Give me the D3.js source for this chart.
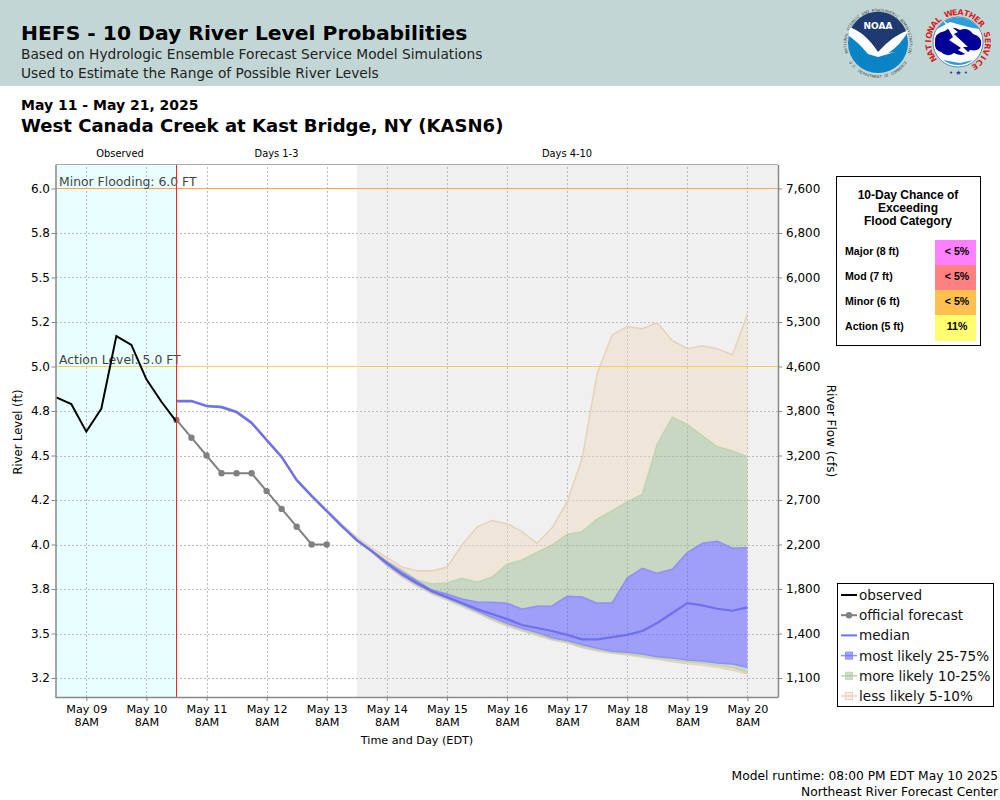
<!DOCTYPE html>
<html>
<head>
<meta charset="utf-8">
<script src="https://d3js.org/d3.v7.min.js"></script>
<style>
html, body { margin: 0; padding: 0; background: #fff; }
svg { display: block; }
text { font-family: "DejaVu Sans", sans-serif; }
.tbl text { font-family: "Liberation Sans", sans-serif; font-weight: bold; }
.axis .domain { stroke: #888; stroke-width: 1.5px; }
.axis .tick line { stroke: #888; }
.grid .domain { display: none; }
.grid .tick line { stroke: #bbb; stroke-dasharray: 2,2; shape-rendering: crispEdges; }
</style>
</head>
<body>
<div id="chart"></div>
<script>
// values, river level in feet, one value every 6 hours
var observed = [4.827, 4.789, 4.634, 4.763, 5.171, 5.121, 4.928, 4.802, 4.69];
var official = [4.7, 4.6, 4.5, 4.4, 4.4, 4.4, 4.3, 4.2, 4.1, 4.0, 4.0];
var median = [4.806, 4.806, 4.778, 4.772, 4.744, 4.683, 4.587, 4.492, 4.362, 4.272, 4.188, 4.104, 4.025, 3.963,
    3.896, 3.834, 3.784, 3.739, 3.705, 3.671, 3.638, 3.610, 3.581, 3.548, 3.531, 3.514, 3.492, 3.467, 3.467,
    3.480, 3.492, 3.514, 3.559, 3.615, 3.671, 3.658, 3.639, 3.628, 3.647];
var p95 = [4.810, 4.810, 4.783, 4.778, 4.750, 4.690, 4.593, 4.498, 4.368, 4.279, 4.196, 4.115, 4.042, 3.980,
    3.928, 3.874, 3.853, 3.853, 3.872, 3.997, 4.098, 4.134, 4.117, 4.072, 4.007, 4.094, 4.240, 4.484, 4.962,
    5.177, 5.224, 5.212, 5.246, 5.145, 5.100, 5.117, 5.100, 5.066, 5.295];
var p90 = [4.809, 4.809, 4.781, 4.775, 4.747, 4.686, 4.590, 4.495, 4.365, 4.275, 4.191, 4.108, 4.030, 3.968,
    3.907, 3.857, 3.801, 3.778, 3.784, 3.810, 3.789, 3.816, 3.889, 3.913, 3.956, 3.997, 4.057, 4.072, 4.142,
    4.190, 4.239, 4.282, 4.565, 4.715, 4.673, 4.610, 4.549, 4.525, 4.492];
var p75 = [4.808, 4.808, 4.780, 4.774, 4.746, 4.685, 4.589, 4.494, 4.364, 4.274, 4.190, 4.106, 4.027, 3.965,
    3.902, 3.846, 3.795, 3.744, 3.722, 3.694, 3.677, 3.675, 3.670, 3.636, 3.653, 3.655, 3.709, 3.705, 3.670,
    3.673, 3.812, 3.866, 3.838, 3.861, 3.954, 4.007, 4.018, 3.979, 3.982];
var p25 = [4.804, 4.804, 4.776, 4.770, 4.742, 4.681, 4.585, 4.490, 4.360, 4.270, 4.186, 4.102, 4.023, 3.961,
    3.890, 3.829, 3.778, 3.733, 3.699, 3.666, 3.628, 3.591, 3.557, 3.529, 3.505, 3.476, 3.460, 3.437, 3.417,
    3.400, 3.394, 3.385, 3.370, 3.362, 3.351, 3.346, 3.334, 3.329, 3.310];
var p10 = [4.803, 4.803, 4.775, 4.769, 4.741, 4.680, 4.584, 4.489, 4.359, 4.269, 4.185, 4.101, 4.021, 3.959,
    3.885, 3.823, 3.772, 3.728, 3.694, 3.657, 3.621, 3.581, 3.548, 3.520, 3.494, 3.469, 3.452, 3.426, 3.407,
    3.392, 3.385, 3.374, 3.361, 3.351, 3.340, 3.333, 3.321, 3.308, 3.282];
var p5 = [4.802, 4.802, 4.774, 4.768, 4.740, 4.679, 4.583, 4.488, 4.358, 4.268, 4.184, 4.100, 4.020, 3.957,
    3.879, 3.817, 3.767, 3.722, 3.688, 3.652, 3.615, 3.576, 3.542, 3.514, 3.489, 3.463, 3.447, 3.420, 3.402,
    3.389, 3.379, 3.366, 3.355, 3.341, 3.330, 3.321, 3.310, 3.293, 3.274];

// axis ticks
var levelTicks = [3.25, 3.5, 3.75, 4.0, 4.25, 4.5, 4.75, 5.0, 5.25, 5.5, 5.75, 6.0];
var levelLabels = ["3.2", "3.5", "3.8", "4.0", "4.2", "4.5", "4.8", "5.0", "5.2", "5.5", "5.8", "6.0"];
var flowLabels = ["1,100", "1,400", "1,800", "2,200", "2,700", "3,200", "3,800", "4,600", "5,300", "6,000", "6,800", "7,600"];
var dayTicks = d3.range(9, 21).map(function(d) { return new Date(2025, 4, d, 8); });

// chance table and legend
var floodCategories = ["Major (8 ft)", "Mod (7 ft)", "Minor (6 ft)", "Action (5 ft)"];
var floodChances = ["< 5%", "< 5%", "< 5%", "11%"];
var floodColors = ["#ff80ff", "#ff8080", "#ffc050", "#ffff70"];
var legendLabels = ["observed", "official forecast", "median", "most likely 25-75%", "more likely 10-25%", "less likely 5-10%"];
var periodLabels = ["Observed", "Days 1-3", "Days 4-10"];

var tan = { fill: "rgba(240,214,186,0.42)", line: "#e6d2bc" };
var green = { fill: "rgba(150,185,135,0.45)", line: "#bcd6b0" };
var blue = { fill: "rgba(100,100,255,0.58)", line: "#8f8ff5" };
var medianColor = "#6f6ff0";
var officialColor = "#808080";

var svg = d3.select("#chart").append("svg").attr("width", 1000).attr("height", 800);

var x = d3.scaleTime()
    .domain([new Date(2025, 4, 8, 19, 30), new Date(2025, 4, 20, 20)])
    .range([55, 777.5]);
var y = d3.scaleLinear().domain([3.1433, 6.1348]).range([697, 164.5]);

var obsStart = new Date(2025, 4, 8, 20);
var runTime = new Date(2025, 4, 10, 20);
var day3End = new Date(2025, 4, 13, 20);

function obsTime(i) { return d3.timeHour.offset(obsStart, i * 6); }
function fcstTime(i) { return d3.timeHour.offset(runTime, i * 6); }

// page header
svg.append("rect").attr("width", 1000).attr("height", 86).attr("fill", "#c2d7d5");
svg.append("text").attr("x", 21).attr("y", 40).attr("font-size", 20.3).attr("font-weight", "bold").text("HEFS - 10 Day River Level Probabilities");
svg.append("text").attr("x", 21).attr("y", 59).attr("font-size", 13.76).attr("fill", "#222").text("Based on Hydrologic Ensemble Forecast Service Model Simulations");
svg.append("text").attr("x", 21).attr("y", 78).attr("font-size", 13.76).attr("fill", "#222").text("Used to Estimate the Range of Possible River Levels");
svg.append("text").attr("x", 21).attr("y", 110).attr("font-size", 14).attr("font-weight", "bold").text("May 11 - May 21, 2025");
svg.append("text").attr("x", 21).attr("y", 132).attr("font-size", 18.06).attr("font-weight", "bold").text("West Canada Creek at Kast Bridge, NY (KASN6)");

drawLogos();

// period backgrounds
svg.append("rect").attr("x", 55.5).attr("y", 164.5).attr("width", x(runTime) - 55.5).attr("height", 532.5).attr("fill", "#e9ffff");
svg.append("rect").attr("x", x(day3End)).attr("y", 164.5).attr("width", 778 - x(day3End)).attr("height", 532.5).attr("fill", "#f0f0f0");

// grid
svg.append("g").attr("class", "grid").attr("transform", "translate(0,697)")
    .call(d3.axisBottom(x).tickValues(dayTicks).tickSize(-532.5).tickFormat(""));
svg.append("g").attr("class", "grid").attr("transform", "translate(55.5,0)")
    .call(d3.axisLeft(y).tickValues(levelTicks).tickSize(-722.5).tickFormat(""));

// probability bands
var bands = [
    { lo: p90, hi: p95, c: tan },
    { lo: p5, hi: p10, c: tan },
    { lo: p75, hi: p90, c: green },
    { lo: p10, hi: p25, c: green },
    { lo: p25, hi: p75, c: blue }
];
bands.forEach(function(b) {
    var area = d3.area()
        .x(function(d, i) { return x(fcstTime(i)); })
        .y0(function(d, i) { return y(b.lo[i]); })
        .y1(function(d, i) { return y(b.hi[i]); });
    svg.append("path").datum(median).attr("d", area).attr("fill", b.c.fill).attr("stroke", "none");
});
[[p95, tan], [p5, tan], [p90, green], [p10, green], [p75, blue], [p25, blue]].forEach(function(s) {
    drawLine(s[0], fcstTime, s[1].line, 1.5);
});

function drawLine(values, timeOf, color, width) {
    var line = d3.line()
        .x(function(d, i) { return x(timeOf(i)); })
        .y(function(d) { return y(d); });
    return svg.append("path").datum(values).attr("d", line).attr("fill", "none").attr("stroke", color).attr("stroke-width", width);
}

// flood levels
svg.append("line").attr("x1", 55.5).attr("x2", 778).attr("y1", y(6)).attr("y2", y(6)).attr("stroke", "#ffa64d").attr("shape-rendering", "crispEdges");
svg.append("line").attr("x1", 55.5).attr("x2", 778).attr("y1", y(5)).attr("y2", y(5)).attr("stroke", "#f8cf50").attr("shape-rendering", "crispEdges");
svg.append("text").attr("x", 59).attr("y", y(6) - 2.5).attr("font-size", 12.4).attr("fill", "#444").text("Minor Flooding: 6.0 FT");
svg.append("text").attr("x", 59).attr("y", y(5) - 2.5).attr("font-size", 12.4).attr("fill", "#444").text("Action Level: 5.0 FT");

// series
drawLine(median, fcstTime, medianColor, 2.2);
drawLine(official, fcstTime, officialColor, 2);
svg.selectAll(".fcst").data(official).enter().append("circle").attr("class", "fcst")
    .attr("cx", function(d, i) { return x(fcstTime(i)); })
    .attr("cy", function(d) { return y(d); })
    .attr("r", 3.2).attr("fill", officialColor);
drawLine(observed, obsTime, "#000", 2);
svg.append("line").attr("x1", x(runTime)).attr("x2", x(runTime)).attr("y1", 164.5).attr("y2", 697).attr("stroke", "#ff2020").attr("shape-rendering", "crispEdges");

// frame and axes
svg.append("line").attr("x1", 55.5).attr("x2", 778).attr("y1", 164.5).attr("y2", 164.5).attr("stroke", "#aaa");

var xAxis = svg.append("g").attr("class", "axis").attr("transform", "translate(0,697)")
    .call(d3.axisBottom(x).tickValues(dayTicks).tickSizeInner(4).tickSizeOuter(0).tickFormat(""));
xAxis.selectAll(".tick").append("text").attr("y", 16).attr("fill", "#000").attr("font-size", 11.2).attr("text-anchor", "middle")
    .text(d3.timeFormat("%b %d"));
xAxis.selectAll(".tick").append("text").attr("y", 28.5).attr("fill", "#000").attr("font-size", 11.2).attr("text-anchor", "middle")
    .text("8AM");

var leftAxis = svg.append("g").attr("class", "axis").attr("transform", "translate(55.5,0)")
    .call(d3.axisLeft(y).tickValues(levelTicks).tickSizeInner(4).tickSizeOuter(0).tickPadding(1.5)
        .tickFormat(function(d, i) { return levelLabels[i]; }));
leftAxis.selectAll("text").attr("font-size", 12).attr("font-family", "DejaVu Sans");

var rightAxis = svg.append("g").attr("class", "axis").attr("transform", "translate(778,0)")
    .call(d3.axisRight(y).tickValues(levelTicks).tickSizeInner(4).tickSizeOuter(0).tickPadding(4)
        .tickFormat(function(d, i) { return flowLabels[i]; }));
rightAxis.selectAll("text").attr("font-size", 12).attr("font-family", "DejaVu Sans");

// axis titles and period labels
svg.append("text").attr("transform", "translate(22,432) rotate(-90)").attr("text-anchor", "middle").attr("font-size", 11.5).text("River Level (ft)");
svg.append("text").attr("transform", "translate(827,431) rotate(90)").attr("text-anchor", "middle").attr("font-size", 12).text("River Flow (cfs)");
svg.append("text").attr("x", 417).attr("y", 744).attr("text-anchor", "middle").attr("font-size", 11.2).text("Time and Day (EDT)");
var periodMid = [120, 276.5, 567];
periodLabels.forEach(function(d, i) {
    svg.append("text").attr("x", periodMid[i]).attr("y", 157).attr("text-anchor", "middle").attr("font-size", 9.9).text(d);
});

// chance of exceeding table
var tbl = svg.append("g").attr("class", "tbl");
tbl.append("rect").attr("x", 836.5).attr("y", 176.5).attr("width", 144).attr("height", 169).attr("fill", "#fff").attr("stroke", "#000");
["10-Day Chance of", "Exceeding", "Flood Category"].forEach(function(d, i) {
    tbl.append("text").attr("x", 908).attr("y", 199 + i * 13).attr("text-anchor", "middle").attr("font-size", 12).text(d);
});
floodCategories.forEach(function(d, i) {
    tbl.append("rect").attr("x", 935).attr("y", 240 + i * 25).attr("width", 41).attr("height", i == 3 ? 26 : 25).attr("fill", floodColors[i]);
    tbl.append("text").attr("x", 845).attr("y", 255 + i * 25).attr("font-size", 10.6).text(d);
    tbl.append("text").attr("x", 957).attr("y", 255 + i * 25).attr("text-anchor", "middle").attr("font-size", 10.6).text(floodChances[i]);
});

// legend
var legendColors = ["#000", officialColor, medianColor, blue, green, tan];
var legend = svg.append("g");
legend.append("rect").attr("x", 837.5).attr("y", 583.5).attr("width", 156).attr("height", 123).attr("fill", "#fff").attr("stroke", "#000");
legendLabels.forEach(function(d, i) {
    var ly = 595 + i * 20.2;
    var c = legendColors[i];
    legend.append("line").attr("x1", 841).attr("x2", 857).attr("y1", ly).attr("y2", ly)
        .attr("stroke", c.line || c).attr("stroke-width", i < 3 ? 2 : 1.5);
    if (i == 1) legend.append("circle").attr("cx", 849).attr("cy", ly).attr("r", 3.2).attr("fill", c);
    if (i > 2) legend.append("rect").attr("x", 845.5).attr("y", ly - 3.5).attr("width", 7).attr("height", 7)
        .attr("fill", c.fill).attr("stroke", c.line);
    legend.append("text").attr("x", 859).attr("y", ly + 5).attr("font-size", 13.6).attr("fill", "#111").text(d);
});

// footer
svg.append("text").attr("x", 998).attr("y", 780).attr("text-anchor", "end").attr("font-size", 12.25).text("Model runtime: 08:00 PM EDT May 10 2025");
svg.append("text").attr("x", 998).attr("y", 796).attr("text-anchor", "end").attr("font-size", 12.25).text("Northeast River Forecast Center");

// logo lettering, one glyph at a time around a circle (angles clockwise from the top)
function ringText(g, cx, cy, r, mid, step, label, size, color, weight) {
    var n = label.length;
    label.split("").forEach(function(ch, i) {
        var a = mid + (i - (n - 1) / 2) * step;
        var rad = a * Math.PI / 180;
        var rot = step < 0 ? a - 180 : a;
        g.append("text").attr("text-anchor", "middle").attr("font-size", size).attr("fill", color).attr("font-weight", weight)
            .attr("transform", "translate(" + (cx + r * Math.sin(rad)) + "," + (cy - r * Math.cos(rad)) + ") rotate(" + rot + ")")
            .text(ch);
    });
}

function drawLogos() {
    // NOAA
    var noaa = svg.append("g");
    noaa.append("circle").attr("cx", 878).attr("cy", 43).attr("r", 30).attr("fill", "#0b84c6");
    noaa.append("path").attr("fill", "#1f3a70").attr("d", "M849,34A30,30 0 0,1 907,34Q893,38 880,54Q866,38 849,34Z");
    noaa.append("path").attr("fill", "#fff").attr("d", "M849,27Q865,32 878,52Q893,35 909,30Q900,46 888,53L895,52L878,57L868,54Q858,42 849,36Z");
    noaa.append("text").attr("x", 878).attr("y", 29).attr("text-anchor", "middle").attr("font-size", 9).attr("font-weight", "bold").attr("fill", "#fff").text("NOAA");
    ringText(noaa, 878, 43, 31.5, 0, 4.6, "NATIONAL OCEANIC AND ATMOSPHERIC ADMINISTRATION", 3.8, "#444", "normal");
    ringText(noaa, 878, 43, 35, 180, -4.2, "U.S. DEPARTMENT OF COMMERCE", 3.8, "#444", "normal");

    // NWS
    var nws = svg.append("g");
    nws.append("circle").attr("cx", 958).attr("cy", 42).attr("r", 25).attr("fill", "#fff").attr("stroke", "#1c3f94").attr("stroke-width", 0.6);
    nws.append("path").attr("fill", "#2a9fd8").attr("d", "M937,29A25,25 0 0,1 979,29L968,27L950,22Z");
    nws.append("path").attr("fill", "#2a9fd8").attr("d", "M943,60A25,25 0 0,0 973,60L960,63Z");
    nws.append("path").attr("fill", "#000099").attr("d", "M935,42Q934,33 945,31Q951,25 960,30Q968,27 973,34Q983,37 981,45Q980,52 970,50Q964,58 954,53Q947,58 941,52Q934,50 935,42Z");
    nws.append("path").attr("fill", "#fff").attr("d", "M943,20L958,32L954,34L968,47L963,47L976,60L958,50L961,48L949,40L953,37Z");
    ringText(nws, 958, 42, 27, 11, 11.7, "NATIONAL WEATHER SERVICE", 8, "#d81e1e", "bold");
    nws.append("text").attr("x", 958.5).attr("y", 75).attr("text-anchor", "middle").attr("font-size", 7).attr("fill", "#1c3f94").text("• ★ •");
}
</script>
</body>
</html>
